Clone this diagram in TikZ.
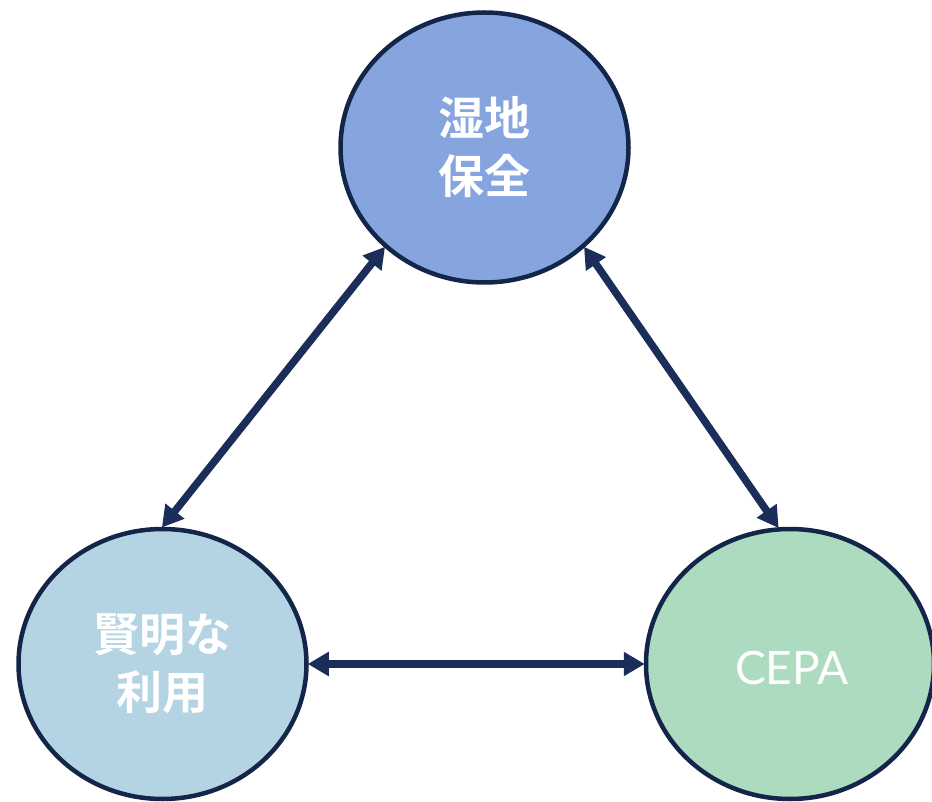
\documentclass[tikz,border=0pt]{standalone}
\usepackage{xcolor}
\usepackage{fontspec}
\setmainfont{Lato}
\newfontfamily\jpbold{Noto Sans CJK JP Bold}
\usetikzlibrary{shapes.geometric,arrows.meta}
\definecolor{navy}{RGB}{19,38,74}
\definecolor{arrownavy}{RGB}{27,46,89}
\definecolor{wetblue}{RGB}{134,165,223}
\definecolor{useblue}{RGB}{180,212,228}
\definecolor{cepagreen}{RGB}{173,219,192}

\begin{document}
\begin{tikzpicture}[x=1pt,y=-1pt,align=center,
  circ/.style={ellipse,draw=navy,line width=4.5pt,minimum width=288pt,minimum height=270pt,inner sep=0pt,text=white},
  jp/.style={font=\jpbold\fontsize{46}{58}\selectfont},
  link/.style={arrownavy,line width=7.5pt,{Triangle[length=21pt,width=23pt]}-{Triangle[length=21pt,width=23pt]},shorten <=-1pt,shorten >=-1pt}]
\useasboundingbox (0,0) rectangle (932,802);
\node[circ,fill=wetblue,jp] (wet) at (484.5,147.5) {湿地\\保全};
\node[circ,fill=useblue,jp] (use) at (162.5,664) {賢明な\\利用};
\node[circ,fill=cepagreen] (cepa) at (790,664) {};
\node[text=white,font=\fontsize{46}{56}\selectfont] (cepatext) at (792,668) {CEPA};
\draw[link] (wet.225) -- (use.90);
\draw[link] (wet.-45) -- (cepa.95);
\draw[link] (use.east) -- (cepa.west);
\end{tikzpicture}
\end{document}
